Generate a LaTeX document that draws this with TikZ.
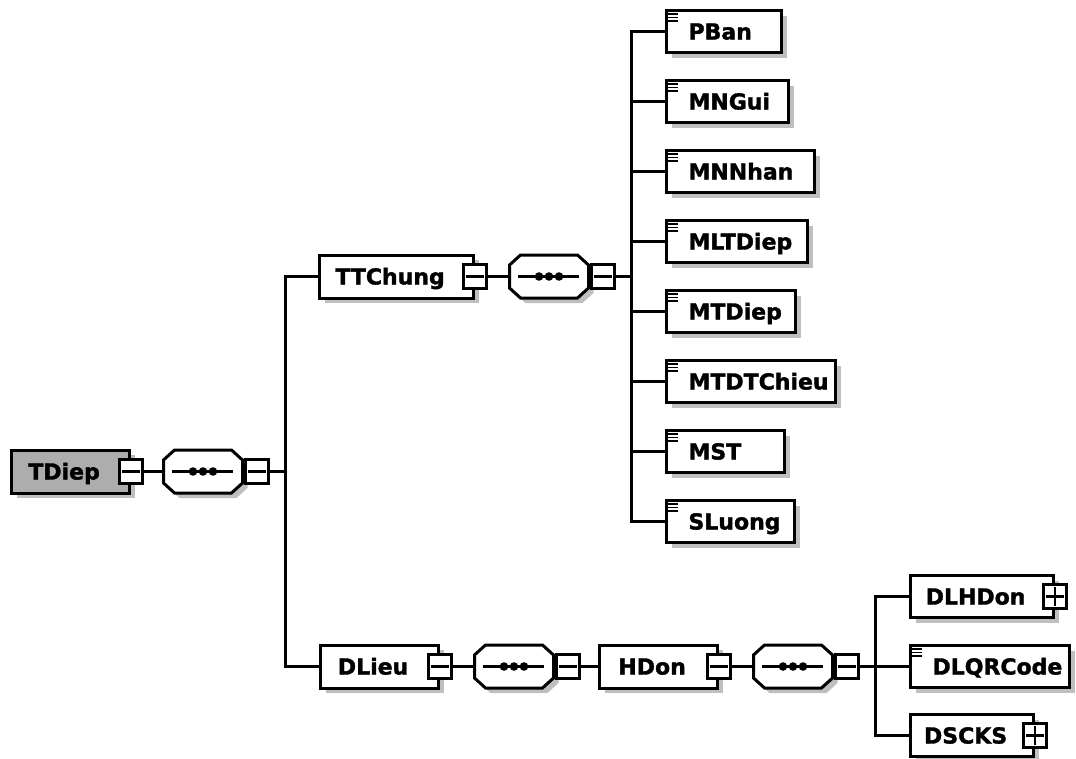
\documentclass[tikz,border=0pt]{standalone}
\usepackage{fontspec}
\setmainfont{DejaVu Sans}[BoldFeatures={FakeBold=1.6}]
\usetikzlibrary{shadows,calc}
\begin{document}
\begin{tikzpicture}[x=1pt,y=-1pt, line width=3pt,
  font=\fontsize{22}{25}\selectfont\bfseries,
  shad/.style={drop shadow={shadow xshift=5pt, shadow yshift=-5pt, fill=black!25, opacity=1}},
  cbox/.style={draw, fill=white, shad, line width=3pt, minimum height=43pt, inner sep=0pt, anchor=west},
  leafbox/.style={draw, fill=white, shad, line width=3pt, minimum height=42pt, inner sep=0pt, anchor=west},
  sqbox/.style={draw, fill=white, minimum width=23pt, minimum height=24pt, inner sep=0pt, line width=2.6pt},
  seqbox/.style={inner sep=0pt, minimum width=79pt, minimum height=43pt, anchor=west},
  octline/.style={draw, fill=white, line width=3pt, line join=miter},
  octshad/.style={fill=black!25},
  txt/.style={inner sep=0pt, anchor=base},
  ltxt/.style={inner sep=0pt, anchor=base west},
  conn/.style={line width=3pt}
]
\useasboundingbox (0,0) rectangle (1076,758);

\newcommand\xsdicon[1]{\foreach \d in {5,8.5,12} \draw[line width=1.8pt] ($(#1.north west)+(3,\d)$) -- ++(10,0);}
\newcommand\xsdminus[1]{\draw[line width=2.6pt] ([xshift=3.5pt]#1.west) -- ([xshift=-3.5pt]#1.east);}
\newcommand\xsdplus[1]{\draw[line width=2.6pt] ([xshift=3.5pt]#1.west) -- ([xshift=-3.5pt]#1.east); \draw[line width=2.6pt] ([yshift=3.5pt]#1.south) -- ([yshift=-3.5pt]#1.north);}
\newcommand\xsdoct{(-28.5,-21.5) -- (28.5,-21.5) -- (39.5,-11.5) -- (39.5,11.5) -- (28.5,21.5) -- (-28.5,21.5) -- (-39.5,11.5) -- (-39.5,-11.5) -- cycle}
\newcommand\xsdseq[1]{%
  \fill[octshad, shift={($(#1.center)+(5,5)$)}] \xsdoct;
  \path[octline, shift={(#1.center)}] \xsdoct;
  \draw[line width=2.6pt] ([xshift=10pt]#1.west) -- ([xshift=-11pt]#1.east);
  \foreach \dx in {-10,0,10} \fill ($(#1.center)+(\dx,0)$) circle (4.3pt);}

% ---------- root ----------
\node[cbox, fill=black!32, minimum width=118pt] (TDiep) at (10,471.5) {};
\node[sqbox] (TDiep-s) at (TDiep.east) {};
\xsdminus{TDiep-s}
\node[txt] at ($(TDiep.west)!0.5!(TDiep-s.west)+(0,8)$) {TDiep};

\node[seqbox] (S1) at (162,471.5) {};
\xsdseq{S1}
\node[sqbox, anchor=west] (S1-s) at (S1.east) {};
\xsdminus{S1-s}
\draw[conn] (TDiep-s.east) -- (S1.west);
\coordinate (J1) at (285.5,471.5);
\draw[conn] (S1-s.east) -- (J1);

% ---------- TTChung ----------
\node[cbox, minimum width=154pt] (TTChung) at (318,276.5) {};
\node[sqbox] (TTChung-s) at (TTChung.east) {};
\xsdminus{TTChung-s}
\node[txt] at ($(TTChung.west)!0.5!(TTChung-s.west)+(0,8)$) {TTChung};

\node[seqbox] (S2) at (508,276.5) {};
\xsdseq{S2}
\node[sqbox, anchor=west] (S2-s) at (S2.east) {};
\xsdminus{S2-s}
\draw[conn] (TTChung-s.east) -- (S2.west);
\coordinate (J2) at (631.5,276.5);
\draw[conn] (S2-s.east) -- (J2);

% leaves
\foreach \nm/\yy/\ww in {PBan/31.5/115, MNGui/101.5/122, MNNhan/171.5/148, MLTDiep/241.5/141, MTDiep/311.5/129, MTDTChieu/381.5/169, MST/451.5/118, SLuong/521.5/128} {
  \node[leafbox, minimum width=\ww pt] (\nm) at (665,\yy) {};
  \xsdicon{\nm}
  \node[ltxt] at ($(\nm.west)+(22,8)$) {\nm};
  \draw[conn] (J2) |- (\nm.west);
}

% ---------- DLieu ----------
\node[cbox, minimum width=118pt] (DLieu) at (319,666.5) {};
\node[sqbox] (DLieu-s) at (DLieu.east) {};
\xsdminus{DLieu-s}
\node[txt] at ($(DLieu.west)!0.5!(DLieu-s.west)+(0,8)$) {DLieu};
\draw[conn] (TTChung.west) -| (J1) |- (DLieu.west);

\node[seqbox] (S3) at (473,666.5) {};
\xsdseq{S3}
\node[sqbox, anchor=west] (S3-s) at (S3.east) {};
\xsdminus{S3-s}
\draw[conn] (DLieu-s.east) -- (S3.west);

\node[cbox, minimum width=118pt] (HDon) at (598,666.5) {};
\node[sqbox] (HDon-s) at (HDon.east) {};
\xsdminus{HDon-s}
\node[txt] at ($(HDon.west)!0.5!(HDon-s.west)+(0,8)$) {HDon};
\draw[conn] (S3-s.east) -- (HDon.west);

\node[seqbox] (S4) at (752,666.5) {};
\xsdseq{S4}
\node[sqbox, anchor=west] (S4-s) at (S4.east) {};
\xsdminus{S4-s}
\draw[conn] (HDon-s.east) -- (S4.west);
\coordinate (J4) at (875.5,666.5);
\draw[conn] (S4-s.east) -- (J4);

\node[cbox, minimum height=42pt, minimum width=143pt] (DLHDon) at (909,596.5) {};
\node[sqbox] (DLHDon-s) at (DLHDon.east) {};
\xsdplus{DLHDon-s}
\node[txt] at ($(DLHDon.west)!0.5!(DLHDon-s.west)+(0,8)$) {DLHDon};
\draw[conn] (J4) |- (DLHDon.west);

\node[leafbox, minimum width=159pt] (DLQRCode) at (909,666.5) {};
\xsdicon{DLQRCode}
\node[ltxt] at ($(DLQRCode.west)+(22,8)$) {DLQRCode};
\draw[conn] (J4) -- (DLQRCode.west);

\node[cbox, minimum height=42pt, minimum width=123pt] (DSCKS) at (909,735.5) {};
\node[sqbox] (DSCKS-s) at (DSCKS.east) {};
\xsdplus{DSCKS-s}
\node[txt] at ($(DSCKS.west)!0.5!(DSCKS-s.west)+(0,8)$) {DSCKS};
\draw[conn] (J4) |- (DSCKS.west);
\end{tikzpicture}
\end{document}
